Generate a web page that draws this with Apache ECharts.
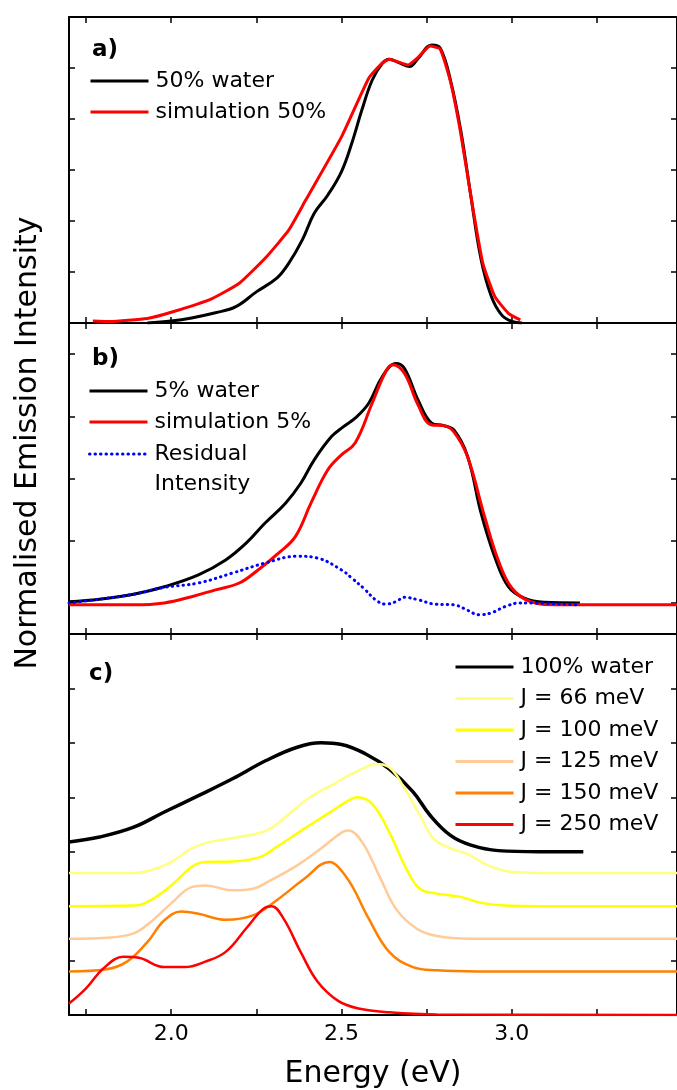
<!DOCTYPE html>
<html>
<head>
<meta charset="utf-8">
<script src="https://cdn.jsdelivr.net/npm/echarts@6.0.0/dist/echarts.min.js"></script>
<style>
  html, body { margin: 0; padding: 0; background: #fff; }
  #chart { width: 677px; height: 1090px; }
</style>
</head>
<body>
<div id="chart"></div>
<script>
// energy axis (eV)
const xTicks = [1.75, 2.0, 2.25, 2.5, 2.75, 3.0, 3.25];
const xLabels = [2.0, 2.5, 3.0];

// panel a) 50% water vs simulation
const water50 = [[1.93,0],[2.0,0.04],[2.06,0.1],[2.13,0.2],[2.19,0.32],[2.25,0.61],[2.31,0.88],[2.345,1.17],[2.385,1.63],[2.42,2.15],[2.46,2.51],[2.5,2.97],[2.53,3.52],[2.56,4.18],[2.59,4.76],[2.62,5.09],[2.64,5.17],[2.67,5.1],[2.7,5.03],[2.725,5.19],[2.765,5.45],[2.79,5.39],[2.82,4.76],[2.85,3.78],[2.88,2.48],[2.91,1.24],[2.94,0.52],[2.97,0.16],[3.0,0.03],[3.03,0]];
const sim50 = [[1.77,0.04],[1.82,0.03],[1.93,0.09],[2.005,0.22],[2.12,0.48],[2.2,0.78],[2.28,1.3],[2.345,1.82],[2.395,2.41],[2.5,3.65],[2.58,4.8],[2.62,5.1],[2.64,5.17],[2.695,5.06],[2.725,5.21],[2.76,5.43],[2.79,5.37],[2.82,4.73],[2.85,3.72],[2.885,2.28],[2.915,1.17],[2.95,0.52],[2.99,0.19],[3.025,0.06]];

// panel b) 5% water, simulation, residual
const water5 = [[1.7,0.02],[1.79,0.06],[1.89,0.14],[1.98,0.26],[2.08,0.45],[2.16,0.69],[2.22,0.96],[2.275,1.28],[2.335,1.6],[2.38,1.92],[2.42,2.3],[2.47,2.67],[2.505,2.83],[2.54,2.97],[2.58,3.21],[2.62,3.64],[2.66,3.85],[2.685,3.77],[2.725,3.26],[2.765,2.89],[2.8,2.85],[2.83,2.78],[2.87,2.36],[2.91,1.44],[2.95,0.74],[2.99,0.26],[3.035,0.08],[3.095,0.01],[3.2,0]];
const sim5 = [[1.7,-0.03],[1.89,-0.03],[1.98,0],[2.06,0.1],[2.13,0.21],[2.2,0.32],[2.255,0.53],[2.315,0.8],[2.365,1.07],[2.41,1.6],[2.46,2.14],[2.5,2.38],[2.54,2.57],[2.59,3.21],[2.63,3.72],[2.65,3.83],[2.685,3.69],[2.725,3.18],[2.765,2.86],[2.8,2.85],[2.83,2.75],[2.87,2.35],[2.92,1.39],[2.96,0.69],[3.0,0.24],[3.055,0.02],[3.125,-0.03],[3.485,-0.03]];
const residual5 = [[1.7,0],[1.79,0.06],[1.89,0.14],[1.98,0.25],[2.08,0.32],[2.18,0.48],[2.275,0.64],[2.37,0.75],[2.43,0.72],[2.5,0.53],[2.53,0.4],[2.57,0.21],[2.6,0.05],[2.63,-0.02],[2.66,0.02],[2.685,0.09],[2.725,0.05],[2.775,-0.02],[2.83,-0.03],[2.86,-0.09],[2.905,-0.19],[2.94,-0.16],[2.98,-0.06],[3.025,0],[3.19,-0.03]];

// panel c) 100% water and simulated spectra for several J
const water100 = [[1.7,3.18],[1.79,3.27],[1.89,3.45],[1.98,3.73],[2.08,4.03],[2.18,4.34],[2.28,4.68],[2.37,4.92],[2.44,5.0],[2.5,4.97],[2.57,4.8],[2.64,4.52],[2.71,4.1],[2.76,3.67],[2.82,3.3],[2.88,3.12],[2.96,3.02],[3.08,3.0],[3.21,3.0]];
const j66 = [[1.7,2.61],[1.89,2.61],[1.94,2.66],[2.0,2.81],[2.06,3.06],[2.12,3.19],[2.2,3.27],[2.28,3.39],[2.33,3.61],[2.4,3.97],[2.47,4.22],[2.53,4.43],[2.57,4.55],[2.6,4.61],[2.64,4.55],[2.68,4.22],[2.73,3.67],[2.77,3.24],[2.82,3.06],[2.87,2.96],[2.93,2.75],[3.0,2.63],[3.08,2.61],[3.485,2.61]];
const j100 = [[1.7,2.0],[1.89,2.01],[1.94,2.11],[2.0,2.38],[2.06,2.72],[2.1,2.81],[2.18,2.82],[2.26,2.9],[2.31,3.09],[2.39,3.42],[2.46,3.7],[2.52,3.94],[2.545,4.0],[2.59,3.88],[2.64,3.36],[2.69,2.69],[2.73,2.32],[2.78,2.23],[2.85,2.17],[2.91,2.06],[2.98,2.01],[3.08,2.0],[3.485,2.0]];
const j125 = [[1.7,1.4],[1.81,1.42],[1.89,1.5],[1.94,1.71],[2.0,2.05],[2.06,2.35],[2.1,2.38],[2.18,2.29],[2.24,2.32],[2.29,2.47],[2.37,2.75],[2.44,3.06],[2.5,3.35],[2.52,3.39],[2.56,3.18],[2.61,2.57],[2.66,1.95],[2.72,1.59],[2.78,1.45],[2.88,1.4],[3.485,1.4]];
const j150 = [[1.7,0.8],[1.81,0.84],[1.87,0.98],[1.93,1.34],[1.98,1.74],[2.03,1.9],[2.08,1.86],[2.16,1.75],[2.24,1.83],[2.31,2.11],[2.39,2.5],[2.465,2.81],[2.49,2.72],[2.53,2.38],[2.58,1.77],[2.64,1.16],[2.71,0.88],[2.78,0.82],[2.9,0.8],[3.485,0.8]];
const j250 = [[1.7,0.21],[1.75,0.49],[1.8,0.85],[1.86,1.07],[1.905,1.05],[1.98,0.88],[2.04,0.88],[2.1,0.98],[2.16,1.16],[2.22,1.59],[2.27,1.95],[2.295,2.0],[2.33,1.77],[2.38,1.16],[2.43,0.61],[2.49,0.26],[2.55,0.12],[2.64,0.05],[2.78,0.01],[3.485,0]];

const FONT = 'DejaVu Sans';
const X_MIN = 1.7, X_MAX = 3.485;

const chart = echarts.init(document.getElementById('chart'));

const grids = [
  { left: 69, top: 17, width: 611.4, height: 306 },
  { left: 69, top: 323, width: 611.4, height: 311 },
  { left: 69, top: 634, width: 611.4, height: 383 }
];
const yRanges = [
  { min: 0, max: 6, ticks: [1, 2, 3, 4, 5] },
  { min: -0.5, max: 4.5, ticks: [0, 1, 2, 3, 4] },
  { min: 0, max: 7, ticks: [1, 2, 3, 4, 5, 6] }
];

const axisLine = { show: true, onZero: false, lineStyle: { color: '#000', width: 2 } };

const xAxes = [];
const yAxes = [];
grids.forEach((g, i) => {
  ['bottom', 'top'].forEach(pos => {
    const withLabels = i === 2 && pos === 'bottom';
    xAxes.push({
      gridIndex: i, type: 'value', position: pos, min: X_MIN, max: X_MAX,
      axisLine: axisLine,
      axisTick: { show: true, inside: true, length: 6, customValues: xTicks, lineStyle: { color: '#000', width: 1.5 } },
      axisLabel: withLabels ? {
        show: true, customValues: xLabels, formatter: v => v.toFixed(1),
        fontSize: 22, fontFamily: FONT, color: '#000', margin: 8
      } : { show: false },
      splitLine: { show: false },
      name: withLabels ? 'Energy (eV)' : '',
      nameLocation: 'middle', nameGap: 44,
      nameTextStyle: { fontSize: 30, fontFamily: FONT, color: '#000' }
    });
  });
  ['left', 'right'].forEach(pos => {
    yAxes.push({
      gridIndex: i, type: 'value', position: pos,
      min: yRanges[i].min, max: yRanges[i].max,
      axisLine: axisLine,
      axisTick: { show: true, inside: true, length: 6, customValues: yRanges[i].ticks, lineStyle: { color: '#000', width: 1.5 } },
      axisLabel: { show: false },
      splitLine: { show: false }
    });
  });
});

function line(name, data, panel, color, width, extra) {
  return Object.assign({
    name: name, type: 'line', data: data,
    xAxisIndex: panel * 2, yAxisIndex: panel * 2,
    symbol: 'none', smooth: 0.4,
    lineStyle: { color: color, width: width },
    itemStyle: { color: color },
    z: 2
  }, extra || {});
}

const series = [
  line('50% water', water50, 0, '#000000', 3),
  line('simulation 50%', sim50, 0, '#ff0000', 3, { smooth: 0.15 }),
  line('5% water', water5, 1, '#000000', 3),
  line('simulation 5%', sim5, 1, '#ff0000', 3),
  line('Residual Intensity', residual5, 1, '#0000ff', 3, {
    lineStyle: { color: '#0000ff', width: 3, type: [0.5, 5], cap: 'round' }
  }),
  line('100% water', water100, 2, '#000000', 3.5),
  line('J = 66 meV', j66, 2, '#ffff80', 2.5),
  line('J = 100 meV', j100, 2, '#ffff00', 2.5),
  line('J = 125 meV', j125, 2, '#ffcc99', 2.5),
  line('J = 150 meV', j150, 2, '#ff8000', 2.5),
  line('J = 250 meV', j250, 2, '#ff0000', 2.5)
];

const legendBase = {
  orient: 'vertical', itemWidth: 58, itemHeight: 14, itemGap: 7, padding: 0,
  lineStyle: { width: 3 },
  itemStyle: { opacity: 0 },
  textStyle: { fontSize: 22, fontFamily: FONT, color: '#000', lineHeight: 24, padding: [0, 0, 0, 2] }
};

const legends = [
  Object.assign({}, legendBase, { data: ['50% water', 'simulation 50%'], left: 89, top: 69 }),
  Object.assign({}, legendBase, { data: ['5% water', 'simulation 5%'], left: 88, top: 379 }),
  Object.assign({}, legendBase, {
    data: ['Residual Intensity'], left: 88, top: 409,
    // three centred lines: the icon sits on the middle one ("Residual")
    formatter: n => ' \n' + n.replace(' ', '\n'),
    textStyle: { fontSize: 22, fontFamily: FONT, color: '#000', lineHeight: 30, padding: [0, 0, 0, 2] }
  }),
  Object.assign({}, legendBase, {
    data: ['100% water', 'J = 66 meV', 'J = 100 meV', 'J = 125 meV', 'J = 150 meV', 'J = 250 meV'],
    left: 454, top: 655, itemGap: 7.5
  })
];

chart.setOption({
  animation: false,
  backgroundColor: '#fff',
  grid: grids,
  xAxis: xAxes,
  yAxis: yAxes,
  legend: legends,
  title: [
    { text: 'a)', left: 92, top: 39, padding: 0, textStyle: { fontSize: 23, fontWeight: 'bold', fontFamily: FONT, color: '#000' } },
    { text: 'b)', left: 92, top: 348, padding: 0, textStyle: { fontSize: 23, fontWeight: 'bold', fontFamily: FONT, color: '#000' } },
    { text: 'c)', left: 89, top: 663, padding: 0, textStyle: { fontSize: 23, fontWeight: 'bold', fontFamily: FONT, color: '#000' } }
  ],
  graphic: [{
    type: 'text', x: 28, y: 443, rotation: Math.PI / 2,
    style: { text: 'Normalised Emission Intensity', font: '30px "DejaVu Sans"', fill: '#000', align: 'center', verticalAlign: 'middle' }
  }],
  series: series
});
</script>
</body>
</html>
